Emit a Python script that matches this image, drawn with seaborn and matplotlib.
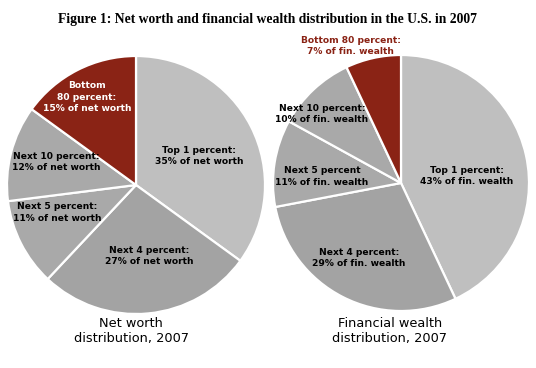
import matplotlib
matplotlib.use("Agg")
import matplotlib.pyplot as plt
import seaborn as sns

# Shares of each group, clockwise from the top
groups = ["Top 1 percent", "Next 4 percent", "Next 5 percent", "Next 10 percent", "Bottom 80 percent"]
net_worth = [35, 27, 11, 12, 15]
fin_wealth = [43, 29, 11, 10, 7]

net_labels = [
    "Top 1 percent:\n35% of net worth",
    "Next 4 percent:\n27% of net worth",
    "Next 5 percent:\n11% of net worth",
    "Next 10 percent:\n12% of net worth",
    "Bottom\n80 percent:\n15% of net worth",
]
fin_labels = [
    "Top 1 percent:\n43% of fin. wealth",
    "Next 4 percent:\n29% of fin. wealth",
    "Next 5 percent\n11% of fin. wealth",
    "Next 10 percent:\n10% of fin. wealth",
    "Bottom 80 percent:\n7% of fin. wealth",
]

colors = ["#bfbfbf", "#a3a3a3", "#a9a9a9", "#a9a9a9", "#8a2315"]

sns.set_theme(style="white")
plt.rcParams["font.family"] = ["DejaVu Sans"]
plt.rcParams["text.color"] = "black"

W, H = 536, 368
fig = plt.figure(figsize=(W / 100, H / 100), dpi=100)


def pie_axes(cx, cy, r):
    # pixel centre/radius -> figure axes box
    return fig.add_axes([(cx - r) / W, (H - cy - r) / H, 2 * r / W, 2 * r / H])


def draw_pie(ax, values, labels, label_pos, label_colors):
    ax.pie(values, colors=colors, startangle=90, counterclock=False,
           wedgeprops=dict(edgecolor="white", linewidth=1.6))
    ax.set_xlim(-1, 1)
    ax.set_ylim(-1, 1)
    ax.set_aspect("equal")
    ax.axis("off")
    for lab, (x, y), c in zip(labels, label_pos, label_colors):
        ax.text(x, y, lab, ha="center", va="center", fontsize=6.6,
                fontweight="bold", color=c, linespacing=1.3)


ax1 = pie_axes(136, 185, 129)
draw_pie(ax1, net_worth, net_labels,
         [(0.488, 0.225), (0.101, -0.550), (-0.609, -0.213), (-0.620, 0.178), (-0.380, 0.682)],
         ["black", "black", "black", "black", "white"])

ax2 = pie_axes(401, 183, 128)
draw_pie(ax2, fin_wealth, fin_labels,
         [(0.516, 0.055), (-0.328, -0.586), (-0.617, 0.051), (-0.617, 0.539), (-0.395, 1.070)],
         ["black", "black", "black", "black", "#8a2315"])

fig.text(0.5, 1 - 20 / H, "Figure 1: Net worth and financial wealth distribution in the U.S. in 2007",
         ha="center", va="center", fontsize=9.8, fontweight="bold", family="Liberation Serif")
fig.text(131 / W, 1 - 331 / H, "Net worth\ndistribution, 2007", ha="center", va="center",
         fontsize=9.3, linespacing=1.25)
fig.text(390 / W, 1 - 331 / H, "Financial wealth\ndistribution, 2007", ha="center", va="center",
         fontsize=9.3, linespacing=1.25)

fig.savefig("out.png", dpi=100, facecolor="white")
